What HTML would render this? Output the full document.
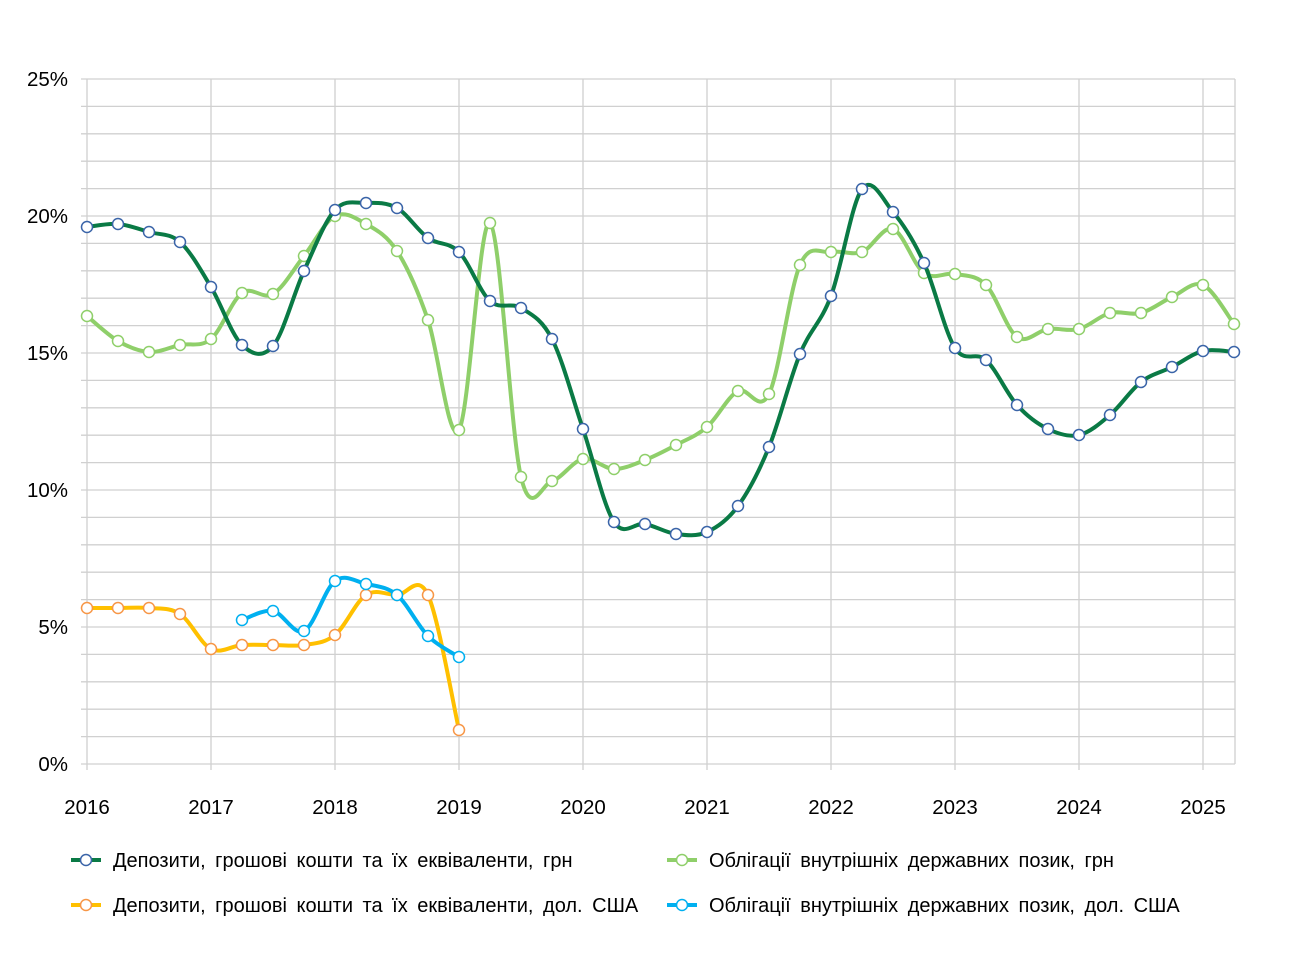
<!DOCTYPE html>
<html><head><meta charset="utf-8"><style>
html,body{margin:0;padding:0;background:#fff;}
svg{display:block;font-family:"Liberation Sans",Arial,sans-serif;}
</style></head><body>
<svg id="s" width="1296" height="958" xmlns="http://www.w3.org/2000/svg"></svg>
<script>
const s=document.getElementById('s');let h='';
const X0=87,Y0=764,pp=27.4;
for(let i=0;i<=25;i++){const y=Y0-i*pp;h+=`<line x1="81" x2="1235" y1="${y}" y2="${y}" stroke="#d0d0d0" stroke-width="1.3"/>`;}
for(let i=0;i<=9;i++){const x=X0+i*124;h+=`<line x1="${x}" x2="${x}" y1="79" y2="770" stroke="#d0d0d0" stroke-width="1.3"/>`;
h+=`<text x="${x}" y="814" font-size="20.5" text-anchor="middle">${2016+i}</text>`;}
h+=`<line x1="1235" x2="1235" y1="79" y2="764" stroke="#d0d0d0" stroke-width="1.3"/>`;
for(let i=0;i<=5;i++){h+=`<text x="68" y="${Y0-i*5*pp+7}" font-size="20.5" text-anchor="end">${i*5}%</text>`;}
function pts(a,start){return a.map((y,i)=>[start+i*31,y]);}
function path(p){let d=`M${p[0][0]},${p[0][1]}`;for(let i=0;i<p.length-1;i++){const p0=p[i-1]||p[i],p1=p[i],p2=p[i+1],p3=p[i+2]||p[i+1];
const c1=[p1[0]+(p2[0]-p0[0])/6,p1[1]+(p2[1]-p0[1])/6],c2=[p2[0]-(p3[0]-p1[0])/6,p2[1]-(p3[1]-p1[1])/6];
d+=` C${c1[0]},${c1[1]} ${c2[0]},${c2[1]} ${p2[0]},${p2[1]}`;}return d;}
function series(p,col,mk){h+=`<path d="${path(p)}" fill="none" stroke="${col}" stroke-width="4"/>`;
p.forEach(q=>h+=`<circle cx="${q[0]}" cy="${q[1]}" r="5.5" fill="#fff" stroke="${mk}" stroke-width="1.5"/>`);}
const lg=pts([316,341,352,345,339,293,294,256,216,224,251,320,430,223,477,481,459,469,460,445,427,391,394,265,252,252,229,273,274,285,337,329,329,313,313,297,285,324],87);
const dg=pts([227,224,232,242,287,345,346,271,210,203,208,238,252,301,308,339,429,522,524,534,532,506,447,354,296,189,212,263,348,360,405,429,435,415,382,367,351,352],87);
const or=pts([608,608,608,614,649,645,645,645,635,595,595,595,730],87);
const bl=pts([620,611,631,581,584,595,636,657],242);
series(lg,'#8fcf6a','#8fcf6a');
series(dg,'#0a7a45','#3a64a8');
series(or,'#ffc000','#f79646');
series(bl,'#00b0f0','#00b0f0');
function leg(x,y,col,mk,t){h+=`<line x1="${x}" x2="${x+30}" y1="${y}" y2="${y}" stroke="${col}" stroke-width="4"/><circle cx="${x+15}" cy="${y}" r="5.5" fill="#fff" stroke="${mk}" stroke-width="1.5"/><text x="${x+42}" y="${y+7}" font-size="20" word-spacing="4">${t}</text>`;}
leg(71,860,'#0a7a45','#3a64a8','Депозити, грошові кошти та їх еквіваленти, грн');
leg(667,860,'#8fcf6a','#8fcf6a','Облігації внутрішніх державних позик, грн');
leg(71,905,'#ffc000','#f79646','Депозити, грошові кошти та їх еквіваленти, дол. США');
leg(667,905,'#00b0f0','#00b0f0','Облігації внутрішніх державних позик, дол. США');
s.innerHTML=h;
</script>
</body></html>
